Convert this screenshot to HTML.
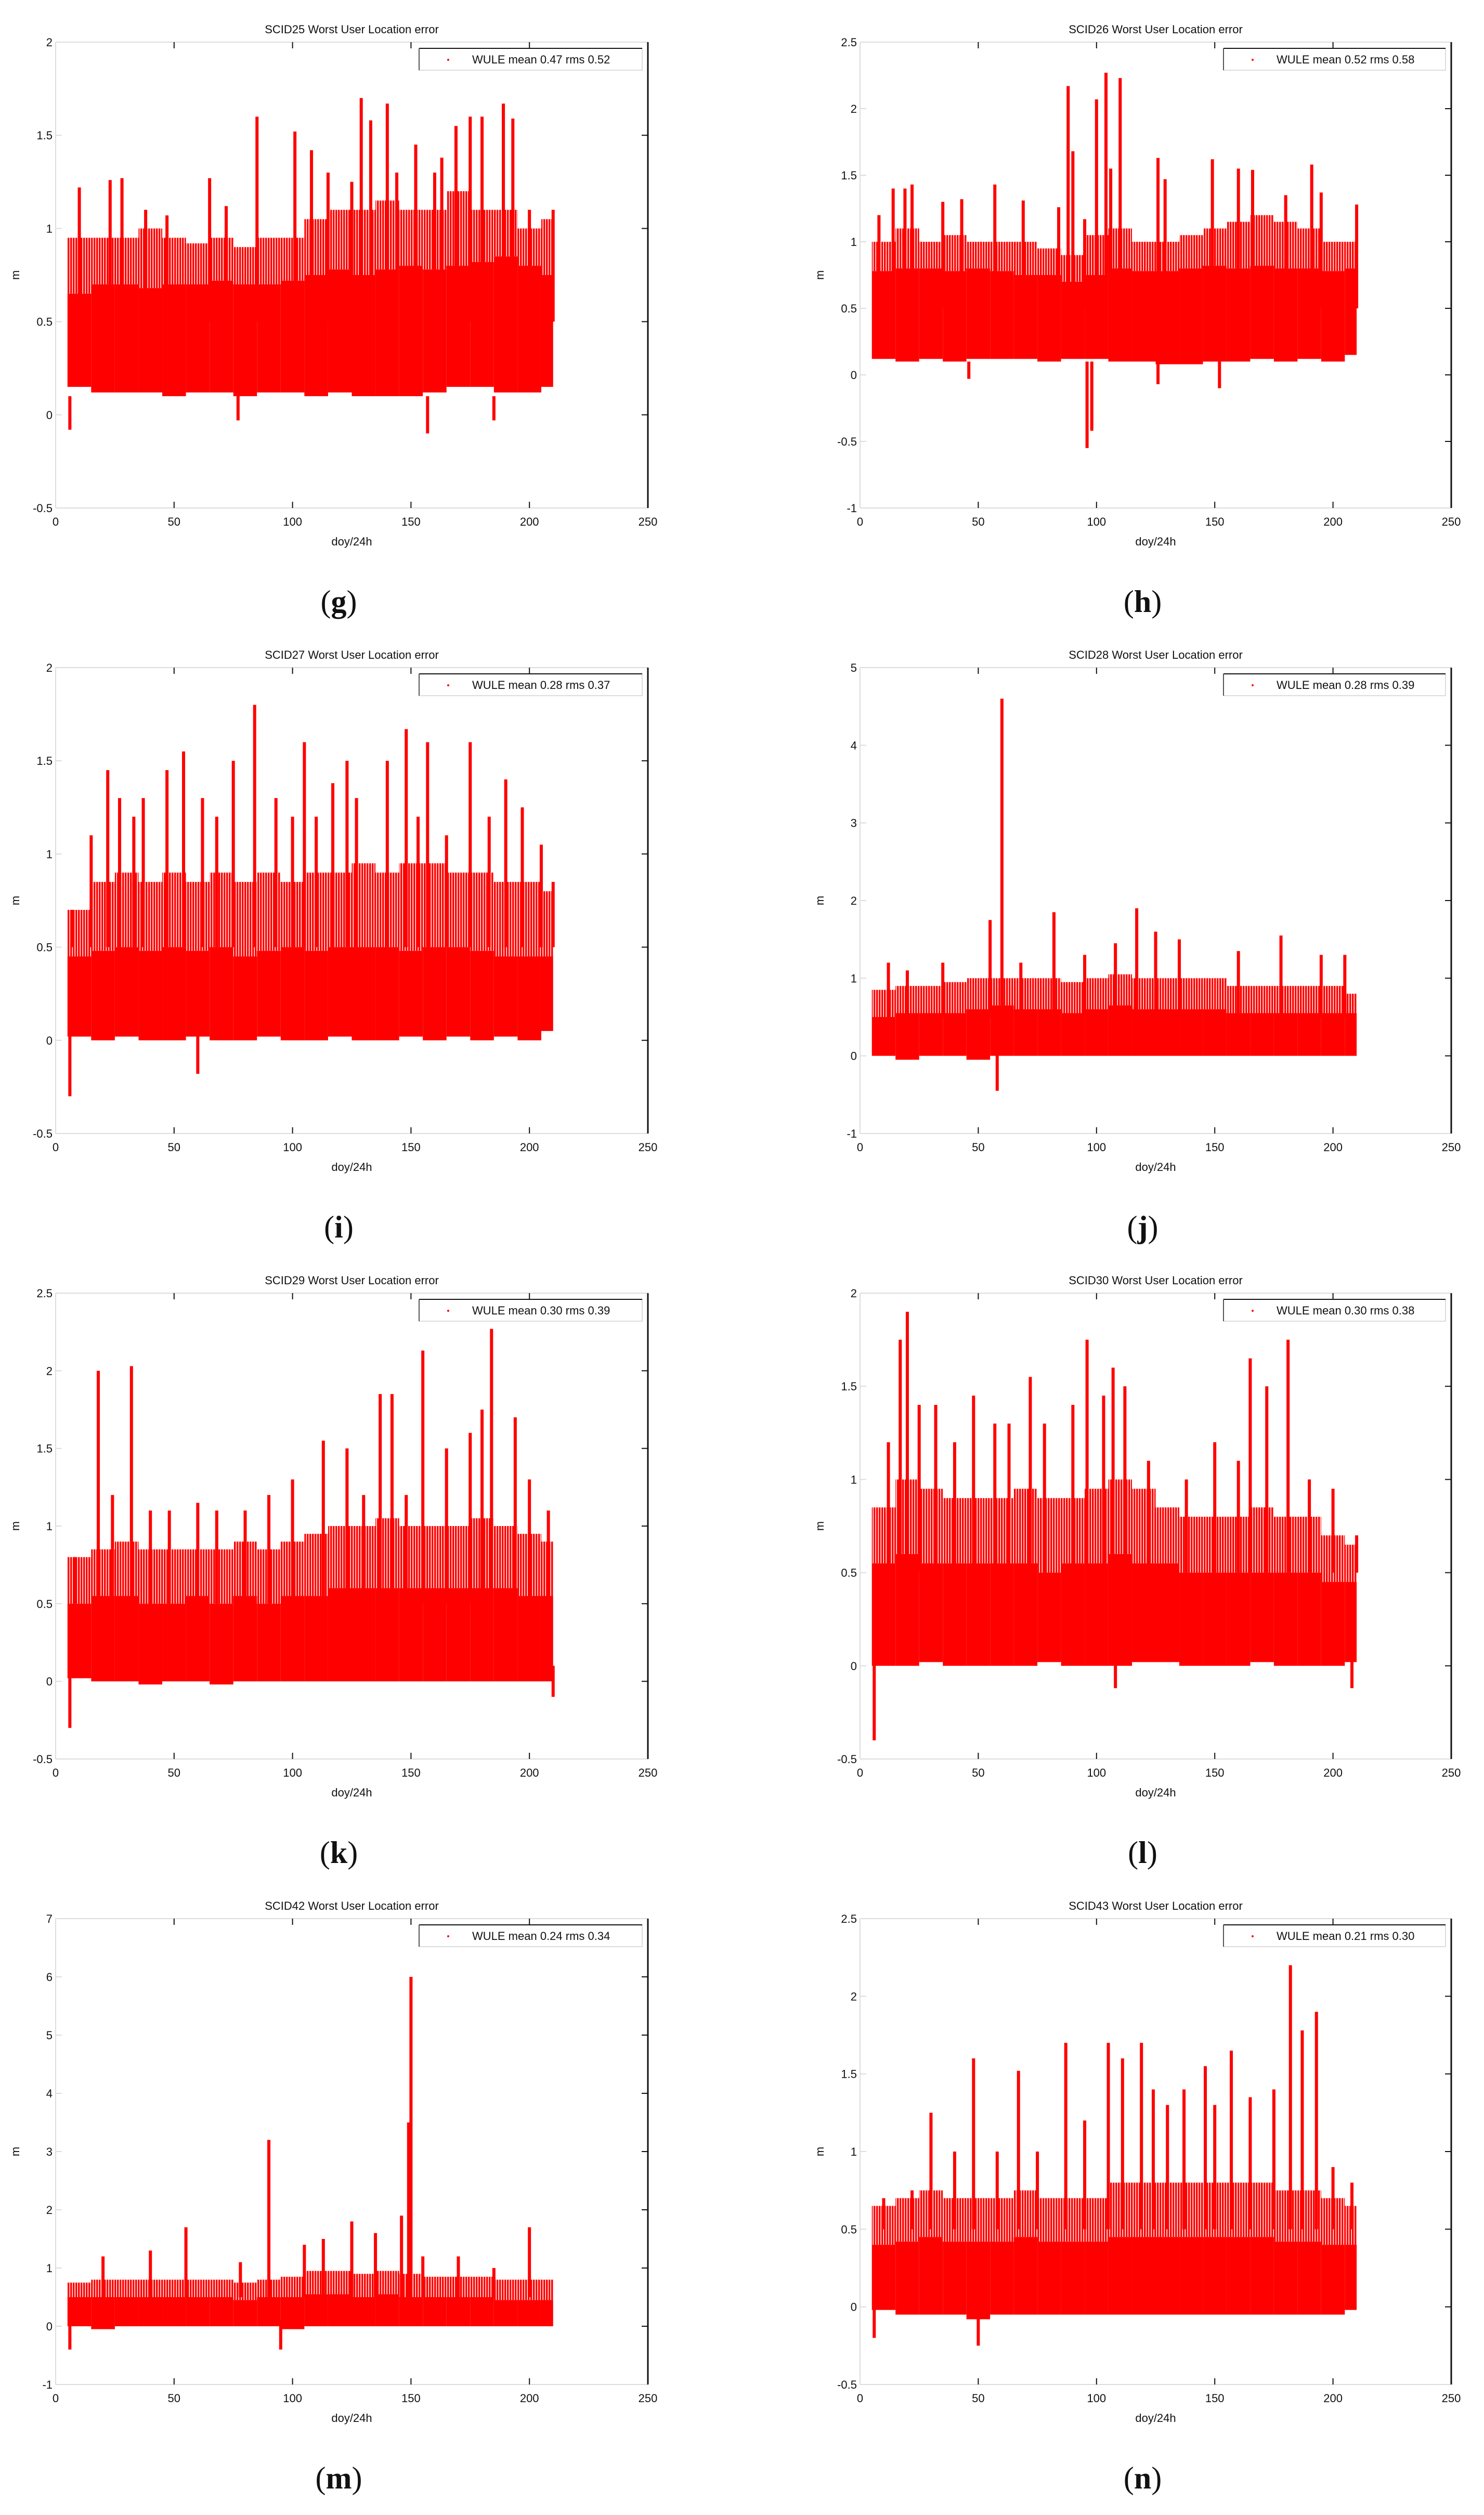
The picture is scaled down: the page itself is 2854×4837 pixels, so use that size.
<!DOCTYPE html>
<html><head><meta charset="utf-8"><style>
html,body{margin:0;padding:0;background:#fff;}
svg{display:block;}
text{font-family:"Liberation Sans",Arial,sans-serif;}
</style></head><body>
<svg id="fig" width="2854" height="4837" viewBox="0 0 2854 4837" xmlns="http://www.w3.org/2000/svg">
<defs>
<pattern id="stripes" width="5" height="10" patternUnits="userSpaceOnUse"><rect x="0" y="0" width="3.5" height="10" fill="#f00"/></pattern>
</defs>
</svg>
<script>
// ---------- data (per panel) ----------
const bandX=[5,15,25,35,45,55,65,75,85,95,105,115,125,135,145,155,165,175,185,195,205];

const gTitle="SCID25 Worst User Location error"; const gLegend="WULE mean 0.47 rms 0.52";
const gYTicks=[-0.5,0,0.5,1,1.5,2]; const gYLabels=["-0.5","0","0.5","1","1.5","2"];
const gLo=[0.15,0.12,0.12,0.12,0.1,0.12,0.12,0.1,0.12,0.12,0.1,0.12,0.1,0.1,0.1,0.12,0.15,0.15,0.12,0.12,0.15];
const gHi=[0.65,0.7,0.7,0.68,0.7,0.7,0.72,0.7,0.7,0.72,0.75,0.78,0.75,0.78,0.8,0.78,0.8,0.82,0.85,0.8,0.75];
const gUp=[0.95,0.95,0.95,1.0,0.95,0.92,0.95,0.9,0.95,0.95,1.05,1.1,1.1,1.15,1.1,1.1,1.2,1.1,1.1,1.0,1.05];
const gSpX=[10,23,28,38,47,65,72,85,101,108,115,125,129,133,140,144,152,160,163,169,175,180,189,193,200,210];
const gSpTop=[1.22,1.26,1.27,1.1,1.07,1.27,1.12,1.6,1.52,1.42,1.3,1.25,1.7,1.58,1.67,1.3,1.45,1.3,1.38,1.55,1.6,1.6,1.67,1.59,1.1,1.1];
const gLowX=[6,77,157,185]; const gLowV=[-0.08,-0.03,-0.1,-0.03];

const hTitle="SCID26 Worst User Location error"; const hLegend="WULE mean 0.52 rms 0.58";
const hYTicks=[-1,-0.5,0,0.5,1,1.5,2,2.5]; const hYLabels=["-1","-0.5","0","0.5","1","1.5","2","2.5"];
const hLo=[0.12,0.1,0.12,0.1,0.12,0.12,0.12,0.1,0.12,0.12,0.1,0.1,0.08,0.08,0.1,0.1,0.12,0.1,0.12,0.1,0.15];
const hHi=[0.78,0.8,0.8,0.78,0.8,0.78,0.75,0.75,0.7,0.75,0.8,0.78,0.78,0.8,0.82,0.8,0.82,0.8,0.8,0.78,0.8];
const hUp=[1.0,1.1,1.0,1.05,1.0,1.0,1.0,0.95,0.9,1.05,1.1,1.0,1.0,1.05,1.1,1.15,1.2,1.15,1.1,1.0,1.0];
const hSpX=[8,14,19,22,35,43,57,69,84,88,90,95,100,104,106,110,126,129,149,160,166,180,191,195,210];
const hSpTop=[1.2,1.4,1.4,1.43,1.3,1.32,1.43,1.31,1.26,2.17,1.68,1.17,2.07,2.27,1.55,2.23,1.63,1.47,1.62,1.55,1.54,1.35,1.58,1.37,1.28];
const hLowX=[96,98,46,126,152]; const hLowV=[-0.55,-0.42,-0.03,-0.07,-0.1];

const iTitle="SCID27 Worst User Location error"; const iLegend="WULE mean 0.28 rms 0.37";
const iYTicks=[-0.5,0,0.5,1,1.5,2]; const iYLabels=["-0.5","0","0.5","1","1.5","2"];
const iLo=[0.02,0.0,0.02,0.0,0.0,0.02,0.0,0.0,0.02,0.0,0.0,0.02,0.0,0.0,0.02,0.0,0.02,0.0,0.02,0.0,0.05];
const iHi=[0.45,0.48,0.5,0.48,0.5,0.48,0.5,0.45,0.48,0.5,0.48,0.5,0.5,0.5,0.48,0.5,0.5,0.48,0.45,0.45,0.45];
const iUp=[0.7,0.85,0.9,0.85,0.9,0.85,0.9,0.85,0.9,0.85,0.9,0.9,0.95,0.9,0.95,0.95,0.9,0.9,0.85,0.85,0.8];
const iSpX=[7,15,22,27,33,37,47,54,62,68,75,84,93,100,105,110,117,123,127,140,148,153,157,165,175,183,190,197,205,210];
const iSpTop=[0.7,1.1,1.45,1.3,1.2,1.3,1.45,1.55,1.3,1.2,1.5,1.8,1.3,1.2,1.6,1.2,1.38,1.5,1.3,1.5,1.67,1.2,1.6,1.1,1.6,1.2,1.4,1.25,1.05,0.85];
const iLowX=[6,60]; const iLowV=[-0.3,-0.18];

const jTitle="SCID28 Worst User Location error"; const jLegend="WULE mean 0.28 rms 0.39";
const jYTicks=[-1,0,1,2,3,4,5]; const jYLabels=["-1","0","1","2","3","4","5"];
const jLo=[0.0,-0.05,0.0,0.0,-0.05,0.0,0.0,0.0,0.0,0.0,0.0,0.0,0.0,0.0,0.0,0.0,0.0,0.0,0.0,0.0,0.0];
const jHi=[0.5,0.55,0.55,0.55,0.6,0.65,0.6,0.6,0.55,0.6,0.65,0.6,0.6,0.6,0.6,0.55,0.55,0.55,0.55,0.55,0.55];
const jUp=[0.85,0.9,0.9,0.95,1.0,1.0,1.0,1.0,0.95,1.0,1.05,1.0,1.0,1.0,1.0,0.9,0.9,0.9,0.9,0.9,0.8];
const jSpX=[12,20,35,55,60,68,82,95,108,117,125,135,160,178,195,205];
const jSpTop=[1.2,1.1,1.2,1.75,4.6,1.2,1.85,1.3,1.45,1.9,1.6,1.5,1.35,1.55,1.3,1.3];
const jLowX=[58]; const jLowV=[-0.45];

const kTitle="SCID29 Worst User Location error"; const kLegend="WULE mean 0.30 rms 0.39";
const kYTicks=[-0.5,0,0.5,1,1.5,2,2.5]; const kYLabels=["-0.5","0","0.5","1","1.5","2","2.5"];
const kLo=[0.02,0.0,0.0,-0.02,0.0,0.0,-0.02,0.0,0.0,0.0,0.0,0.0,0.0,0.0,0.0,0.0,0.0,0.0,0.0,0.0,0.0];
const kHi=[0.5,0.55,0.55,0.5,0.5,0.55,0.5,0.55,0.5,0.55,0.55,0.6,0.6,0.6,0.6,0.6,0.6,0.6,0.6,0.55,0.55];
const kUp=[0.8,0.85,0.9,0.85,0.85,0.85,0.85,0.9,0.85,0.9,0.95,1.0,1.0,1.05,1.0,1.0,1.0,1.05,1.0,0.95,0.9];
const kSpX=[8,18,24,32,40,48,60,68,80,90,100,113,123,130,137,142,148,155,165,175,180,184,194,200,208];
const kSpTop=[0.8,2.0,1.2,2.03,1.1,1.1,1.15,1.1,1.1,1.2,1.3,1.55,1.5,1.2,1.85,1.85,1.2,2.13,1.5,1.6,1.75,2.27,1.7,1.3,1.1];
const kLowX=[6,210]; const kLowV=[-0.3,-0.1];

const lTitle="SCID30 Worst User Location error"; const lLegend="WULE mean 0.30 rms 0.38";
const lYTicks=[-0.5,0,0.5,1,1.5,2]; const lYLabels=["-0.5","0","0.5","1","1.5","2"];
const lLo=[0.0,0.0,0.02,0.0,0.0,0.0,0.0,0.02,0.0,0.0,0.0,0.02,0.02,0.0,0.0,0.0,0.02,0.0,0.0,0.0,0.02];
const lHi=[0.55,0.6,0.55,0.55,0.55,0.55,0.55,0.5,0.55,0.55,0.6,0.55,0.55,0.5,0.5,0.5,0.5,0.5,0.5,0.45,0.45];
const lUp=[0.85,1.0,0.95,0.9,0.9,0.9,0.95,0.9,0.9,0.95,1.0,0.95,0.85,0.8,0.8,0.8,0.85,0.8,0.8,0.7,0.65];
const lSpX=[12,17,20,25,32,40,48,57,63,72,78,90,96,103,107,112,122,138,150,160,165,172,181,190,200,210];
const lSpTop=[1.2,1.75,1.9,1.4,1.4,1.2,1.45,1.3,1.3,1.55,1.3,1.4,1.75,1.45,1.6,1.5,1.1,1.0,1.2,1.1,1.65,1.5,1.75,1.0,0.95,0.7];
const lLowX=[6,108,208]; const lLowV=[-0.4,-0.12,-0.12];

const mTitle="SCID42 Worst User Location error"; const mLegend="WULE mean 0.24 rms 0.34";
const mYTicks=[-1,0,1,2,3,4,5,6,7]; const mYLabels=["-1","0","1","2","3","4","5","6","7"];
const mLo=[0.0,-0.05,0.0,0.0,0.0,0.0,0.0,0.0,0.0,-0.05,0.0,0.0,0.0,0.0,0.0,0.0,0.0,0.0,0.0,0.0,0.0];
const mHi=[0.5,0.5,0.5,0.5,0.5,0.5,0.5,0.45,0.5,0.5,0.55,0.55,0.5,0.55,0.5,0.5,0.5,0.5,0.45,0.45,0.45];
const mUp=[0.75,0.8,0.8,0.8,0.8,0.8,0.8,0.75,0.8,0.85,0.95,0.95,0.9,0.95,0.9,0.85,0.85,0.85,0.8,0.8,0.8];
const mSpX=[20,40,55,78,90,105,113,125,135,146,149,150,155,170,185,200];
const mSpTop=[1.2,1.3,1.7,1.1,3.2,1.4,1.5,1.8,1.6,1.9,3.5,6.0,1.2,1.2,1.0,1.7];
const mLowX=[6,95]; const mLowV=[-0.4,-0.4];

const nTitle="SCID43 Worst User Location error"; const nLegend="WULE mean 0.21 rms 0.30";
const nYTicks=[-0.5,0,0.5,1,1.5,2,2.5]; const nYLabels=["-0.5","0","0.5","1","1.5","2","2.5"];
const nLo=[-0.02,-0.05,-0.05,-0.05,-0.08,-0.05,-0.05,-0.05,-0.05,-0.05,-0.05,-0.05,-0.05,-0.05,-0.05,-0.05,-0.05,-0.05,-0.05,-0.05,-0.02];
const nHi=[0.4,0.42,0.45,0.42,0.42,0.42,0.45,0.42,0.42,0.42,0.45,0.45,0.45,0.45,0.45,0.45,0.45,0.42,0.42,0.4,0.4];
const nUp=[0.65,0.7,0.75,0.7,0.7,0.7,0.75,0.7,0.7,0.7,0.8,0.8,0.8,0.8,0.8,0.8,0.8,0.75,0.75,0.7,0.65];
const nSpX=[10,22,30,40,48,58,67,75,87,95,105,111,119,124,130,137,146,150,157,165,175,182,187,193,200,208];
const nSpTop=[0.7,0.75,1.25,1.0,1.6,1.0,1.52,1.0,1.7,1.2,1.7,1.6,1.7,1.4,1.3,1.4,1.55,1.3,1.65,1.35,1.4,2.2,1.78,1.9,0.9,0.8];
const nLowX=[6,50]; const nLowV=[-0.2,-0.25];

const xTicks=[0,50,100,150,200,250];
const xLabels=["0","50","100","150","200","250"];

// ---------- layout ----------
const NS="http://www.w3.org/2000/svg";
const svg=document.getElementById('fig');
function el(tag,attrs,parent){const e=document.createElementNS(NS,tag);for(const k in attrs)e.setAttribute(k,attrs[k]);(parent||svg).appendChild(e);return e;}

const panels=[
 {id:'g',col:0,row:0,t:gTitle,lg:gLegend,yt:gYTicks,yl:gYLabels,lo:gLo,hi:gHi,up:gUp,sx:gSpX,st:gSpTop,lx:gLowX,lv:gLowV},
 {id:'h',col:1,row:0,t:hTitle,lg:hLegend,yt:hYTicks,yl:hYLabels,lo:hLo,hi:hHi,up:hUp,sx:hSpX,st:hSpTop,lx:hLowX,lv:hLowV},
 {id:'i',col:0,row:1,t:iTitle,lg:iLegend,yt:iYTicks,yl:iYLabels,lo:iLo,hi:iHi,up:iUp,sx:iSpX,st:iSpTop,lx:iLowX,lv:iLowV},
 {id:'j',col:1,row:1,t:jTitle,lg:jLegend,yt:jYTicks,yl:jYLabels,lo:jLo,hi:jHi,up:jUp,sx:jSpX,st:jSpTop,lx:jLowX,lv:jLowV},
 {id:'k',col:0,row:2,t:kTitle,lg:kLegend,yt:kYTicks,yl:kYLabels,lo:kLo,hi:kHi,up:kUp,sx:kSpX,st:kSpTop,lx:kLowX,lv:kLowV},
 {id:'l',col:1,row:2,t:lTitle,lg:lLegend,yt:lYTicks,yl:lYLabels,lo:lLo,hi:lHi,up:lUp,sx:lSpX,st:lSpTop,lx:lLowX,lv:lLowV},
 {id:'m',col:0,row:3,t:mTitle,lg:mLegend,yt:mYTicks,yl:mYLabels,lo:mLo,hi:mHi,up:mUp,sx:mSpX,st:mSpTop,lx:mLowX,lv:mLowV},
 {id:'n',col:1,row:3,t:nTitle,lg:nLegend,yt:nYTicks,yl:nYLabels,lo:nLo,hi:nHi,up:nUp,sx:nSpX,st:nSpTop,lx:nLowX,lv:nLowV}
];
const colL=[107,1654], colR=[1246,2791];

panels.forEach(p=>{
  const L=colL[p.col], R=colR[p.col], T=81+p.row*1203, B=T+896, W=R-L, H=B-T;
  const ymin=p.yt[0], ymax=p.yt[p.yt.length-1];
  const sx=v=>L+(v-0)/250*W;
  const sy=v=>B-(v-ymin)/(ymax-ymin)*H;
  const g=el('g',{});
  
  

  const marks=el('g',{},g);
  
  
  bandX.forEach((x,i)=>{
    const x0=sx(x), x1=sx(Math.min(x+10,210));
    const up=el('rect',{x:x0,y:sy(p.up[i]),width:x1-x0,height:sy(p.hi[i])-sy(p.up[i]),fill:'url(#stripes)'},marks);
    
    
    const r=el('rect',{x:x0,y:sy(p.hi[i]),width:x1-x0,height:sy(p.lo[i])-sy(p.hi[i]),fill:'#f00'},marks);
    
    
  });
  p.sx.forEach((x,i)=>{
    const s=el('line',{x1:sx(x),x2:sx(x),y1:sy(p.st[i]),y2:sy(0.5),stroke:'#f00','stroke-width':6},marks);
    
    
  });
  p.lx.forEach((x,i)=>{
    const s=el('line',{x1:sx(x),x2:sx(x),y1:sy(p.lv[i]),y2:sy(0.1),stroke:'#f00','stroke-width':6},marks);
    
    
  });

  el('line',{x1:L,y1:T,x2:L,y2:B,stroke:'#ddd','stroke-width':2},g);
  el('line',{x1:L,y1:B,x2:R,y2:B,stroke:'#ddd','stroke-width':2},g);
  el('line',{x1:L,y1:T,x2:R,y2:T,stroke:'#ddd','stroke-width':2},g);
  el('line',{x1:R,y1:T,x2:R,y2:B,stroke:'#111','stroke-width':3},g);

  xTicks.forEach((v,i)=>{
    const x=sx(v);
    if(i>0&&i<xTicks.length-1){
      el('line',{x1:x,x2:x,y1:B,y2:B-12,stroke:'#111','stroke-width':2},g);
      el('line',{x1:x,x2:x,y1:T,y2:T+12,stroke:'#111','stroke-width':2},g);
    }
    const t=el('text',{x:x,y:B+34,'font-size':22,'text-anchor':'middle',fill:'#111'},g);
    t.textContent=xLabels[i];
    
    
  });
  p.yt.forEach((v,i)=>{
    const y=sy(v);
    if(i>0&&i<p.yt.length-1){
      el('line',{x1:R,x2:R-12,y1:y,y2:y,stroke:'#111','stroke-width':2},g);
      el('line',{x1:L,x2:L+12,y1:y,y2:y,stroke:'#ddd','stroke-width':2},g);
    }
    const t=el('text',{x:L-6,y:y+8,'font-size':22,'text-anchor':'end',fill:'#111'},g);
    t.textContent=p.yl[i];
    
    
  });

  const tt=el('text',{x:(L+R)/2,y:T-17,'font-size':22,'text-anchor':'middle',fill:'#111'},g);
  tt.textContent=p.t;
  
  
  const xl=el('text',{x:(L+R)/2,y:B+72,'font-size':22,'text-anchor':'middle',fill:'#111'},g);
  xl.textContent='doy/24h';
  
  
  const yl=el('text',{x:L-70,y:(T+B)/2,'font-size':22,'text-anchor':'middle',fill:'#111',transform:`rotate(-90 ${L-70} ${(T+B)/2})`},g);
  yl.textContent='m';
  
  

  const lg=el('g',{},g);
  
  
  const bx=L+699, by=T+12, bw=W-710, bh=42;
  el('rect',{x:bx,y:by,width:bw,height:bh,fill:'#fff',stroke:'#ddd','stroke-width':2},lg);
  el('line',{x1:bx,x2:bx+bw,y1:by,y2:by,stroke:'#111','stroke-width':2},lg);
  el('line',{x1:bx,x2:bx,y1:by,y2:by+bh,stroke:'#555','stroke-width':2},lg);
  el('circle',{cx:bx+56,cy:by+22,r:2,fill:'#f00'},lg);
  const lt=el('text',{x:bx+102,y:by+29,'font-size':22,fill:'#111'},lg);
  lt.textContent=p.lg;
  
  

  const pl=el('text',{x:(L+R)/2-25,y:B+200,'font-size':60,'text-anchor':'middle',fill:'#111'},g);
  pl.setAttribute('style','font-family:"Liberation Serif",serif');
  pl.innerHTML='(<tspan font-weight="bold">'+p.id+'</tspan>)';
  
  
});
</script>
</body></html>
